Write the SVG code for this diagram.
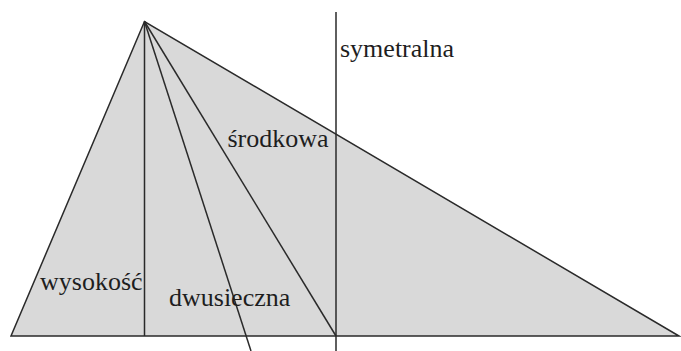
<svg xmlns="http://www.w3.org/2000/svg" width="681" height="351" viewBox="0 0 681 351">
<style>
.ln{stroke:#2a2a2a;stroke-width:1.5;fill:none}
text{font-family:'Liberation Serif','Times New Roman',Times,serif;font-size:26px;fill:#1e1e1e}
</style>
<rect width="681" height="351" fill="#fff"/>
<g id="triangle">
<polygon points="144.5,21.5 11,336 679,336" fill="#d9d9d9" stroke="#2a2a2a" stroke-width="1.5"/>
</g>
<g id="connectors">
<line class="ln" x1="144.5" y1="21.5" x2="144.5" y2="336"/>
<line class="ln" x1="144.5" y1="21.5" x2="251" y2="351"/>
<line class="ln" x1="144.5" y1="21.5" x2="336" y2="336"/>
<line class="ln" x1="336" y1="12" x2="336" y2="351"/>
</g>
<g id="labels">
<text x="340" y="56.5" font-family="Liberation Serif, serif">symetralna</text>
<text x="227.5" y="146.5" font-family="Liberation Serif, serif">środkowa</text>
<text x="40" y="290" font-family="Liberation Serif, serif">wysokość</text>
<text x="169" y="306" font-family="Liberation Serif, serif">dwusieczna</text>
</g>
</svg>
